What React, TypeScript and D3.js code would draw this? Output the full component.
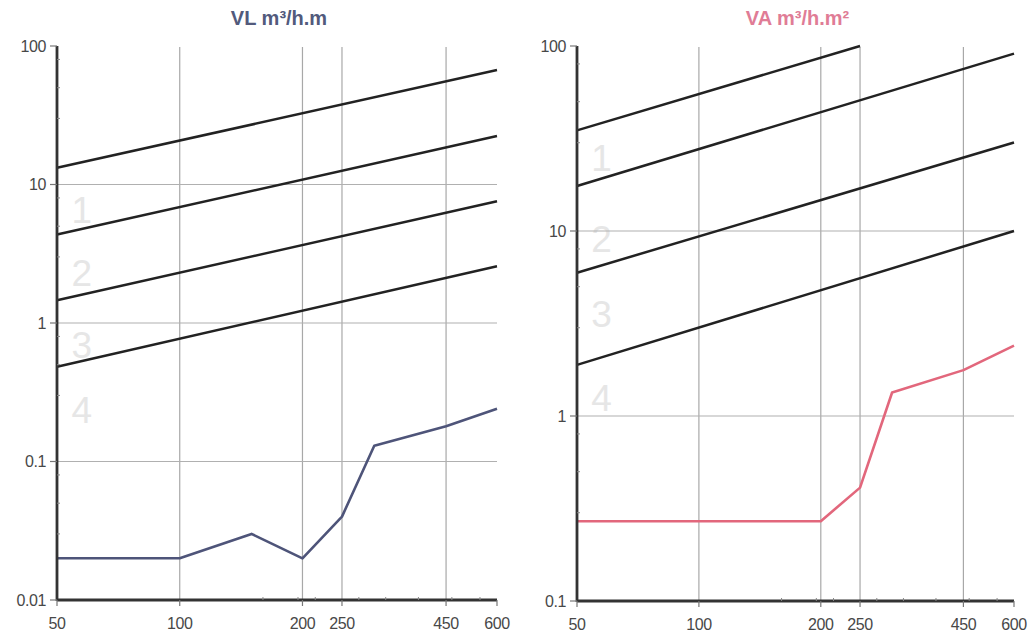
import React from 'react';
import { scaleLog, line } from 'd3';

// x axis shared by both charts
const xTicks = [50, 100, 200, 250, 450, 600];
const xGrid = [100, 200, 250, 450];
const xMinor = [160, 195, 215, 275, 320, 385, 465, 545];
const minorFactors = [3, 5, 8];

// VL panel
const vlYTicks = [0.01, 0.1, 1, 10, 100];
const vlLines = [
  [{ x: 50, y: 13.2 }, { x: 600, y: 67 }],
  [{ x: 50, y: 4.35 }, { x: 600, y: 22.4 }],
  [{ x: 50, y: 1.46 }, { x: 600, y: 7.57 }],
  [{ x: 50, y: 0.483 }, { x: 600, y: 2.57 }],
];
const vlSeriesX = [50, 100, 150, 200, 250, 300, 450, 600];
const vlSeriesY = [0.02, 0.02, 0.03, 0.02, 0.04, 0.13, 0.18, 0.24];
const vlLabelY = [6.6, 2.3, 0.7, 0.235];

// VA panel
const vaYTicks = [0.1, 1, 10, 100];
const vaLines = [
  [{ x: 50, y: 35 }, { x: 250, y: 100 }],
  [{ x: 50, y: 17.5 }, { x: 600, y: 91 }],
  [{ x: 50, y: 5.95 }, { x: 600, y: 30.1 }],
  [{ x: 50, y: 1.89 }, { x: 600, y: 10 }],
];
const vaSeriesX = [50, 200, 250, 300, 450, 600];
const vaSeriesY = [0.27, 0.27, 0.41, 1.34, 1.77, 2.4];
const vaLabelY = [25, 9.1, 3.57, 1.25];

const zoneNames = ['1', '2', '3', '4'];
const labelX = 57.5;

type Pt = { x: number; y: number };

type PanelProps = {
  left: number;
  right: number;
  top: number;
  bottom: number;
  title: React.ReactNode;
  titleColor: string;
  yTicks: number[];
  lines: Pt[][];
  seriesX: number[];
  seriesY: number[];
  seriesColor: string;
  labelY: number[];
};

function Panel(p: PanelProps) {
  const x = scaleLog().domain([50, 600]).range([p.left, p.right]);
  const y = scaleLog()
    .domain([p.yTicks[0], p.yTicks[p.yTicks.length - 1]])
    .range([p.bottom, p.top]);

  const path = line<Pt>()
    .x(d => x(d.x))
    .y(d => y(d.y));

  const series = p.seriesX.map((v, i) => ({ x: v, y: p.seriesY[i] }));

  const minorY: number[] = [];
  p.yTicks.slice(0, -1).forEach(t => minorFactors.forEach(f => minorY.push(t * f)));

  const font = '"Liberation Sans", Arial, sans-serif';

  return (
    <g>
      <text
        x={(p.left + p.right) / 2 + 2}
        y={25}
        textAnchor="middle"
        fontFamily={font}
        fontWeight="bold"
        fontSize={20}
        fill={p.titleColor}
      >
        {p.title}
      </text>

      {/* zone numbers */}
      {zoneNames.map((n, i) => (
        <text
          key={n}
          x={x(labelX)}
          y={y(p.labelY[i])}
          dy="0.36em"
          textAnchor="middle"
          fontFamily={font}
          fontSize={37}
          fill="#e6e6e6"
        >
          {n}
        </text>
      ))}

      {/* grid */}
      {xGrid.map(t => (
        <line key={t} x1={x(t)} x2={x(t)} y1={p.top + 1} y2={p.bottom} stroke="#a8a8a8" strokeWidth={1.2} />
      ))}
      {p.yTicks.slice(1, -1).map(t => (
        <line key={t} x1={p.left} x2={p.right} y1={y(t)} y2={y(t)} stroke="#b0b0b0" strokeWidth={1.2} />
      ))}

      {/* reference lines */}
      {p.lines.map((l, i) => (
        <path key={i} d={path(l) || ''} fill="none" stroke="#222" strokeWidth={2.5} />
      ))}

      {/* measured series */}
      <path d={path(series) || ''} fill="none" stroke={p.seriesColor} strokeWidth={2.6} strokeLinejoin="round" />

      {/* axes */}
      <line x1={p.left} x2={p.left} y1={p.top} y2={p.bottom + 1} stroke="#333" strokeWidth={2.8} />
      <line x1={p.left} x2={p.right} y1={p.bottom} y2={p.bottom} stroke="#333" strokeWidth={2.8} />

      {p.yTicks.map(t => (
        <g key={t}>
          <line x1={p.left - 7} x2={p.left} y1={y(t)} y2={y(t)} stroke="#777" strokeWidth={1.2} />
          <text
            x={p.left - 11}
            y={y(t)}
            dy="0.35em"
            textAnchor="end"
            fontFamily={font}
            fontSize={16}
            letterSpacing={-0.4}
            fill="#484848"
          >
            {t}
          </text>
        </g>
      ))}
      {minorY.map(t => (
        <line key={t} x1={p.left} x2={p.left + 3} y1={y(t)} y2={y(t)} stroke="#888" strokeWidth={1} />
      ))}

      {xTicks.map(t => (
        <g key={t}>
          <line x1={x(t)} x2={x(t)} y1={p.bottom} y2={p.bottom + 6} stroke="#777" strokeWidth={1.2} />
          <text
            x={x(t)}
            y={p.bottom + 29}
            textAnchor="middle"
            fontFamily={font}
            fontSize={16}
            letterSpacing={-0.4}
            fill="#484848"
          >
            {t}
          </text>
        </g>
      ))}
      {xMinor.map(t => (
        <line key={t} x1={x(t)} x2={x(t)} y1={p.bottom - 3} y2={p.bottom} stroke="#888" strokeWidth={1} />
      ))}
    </g>
  );
}

export default function App() {
  return (
    <svg
      width={1033}
      height={634}
      style={{ position: 'absolute', left: 0, top: 0, background: '#fff' }}
    >
      <Panel
        left={57}
        right={497}
        top={46}
        bottom={600}
        title={<>VL m³/h.m</>}
        titleColor="#525a7c"
        yTicks={vlYTicks}
        lines={vlLines}
        seriesX={vlSeriesX}
        seriesY={vlSeriesY}
        seriesColor="#4e5479"
        labelY={vlLabelY}
      />
      <Panel
        left={577}
        right={1014}
        top={46}
        bottom={601}
        title={<>VA m³/h.m²</>}
        titleColor="#e07c96"
        yTicks={vaYTicks}
        lines={vaLines}
        seriesX={vaSeriesX}
        seriesY={vaSeriesY}
        seriesColor="#e2677c"
        labelY={vaLabelY}
      />
    </svg>
  );
}
